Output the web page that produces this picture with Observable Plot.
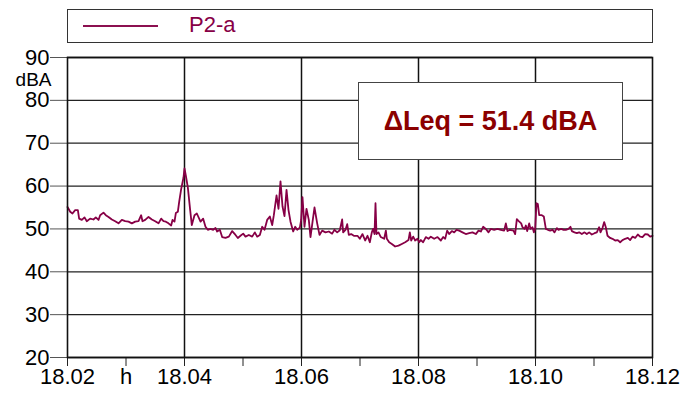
<!DOCTYPE html>
<html>
<head>
<meta charset="utf-8">
<script src="https://cdn.jsdelivr.net/npm/d3@7"></script>
<script src="https://cdn.jsdelivr.net/npm/@observablehq/plot@0.6"></script>
<style>
  html, body { margin: 0; padding: 0; background: white; }
  #wrap { position: relative; width: 682px; height: 401px; font-family: "Liberation Sans", Arial, sans-serif; }
  #legend { position: absolute; left: 67px; top: 9px; width: 584px; height: 32px; border: 1px solid #333; background: white; }
  #legend .swatch { position: absolute; left: 15px; top: 15px; width: 75px; height: 2px; background: #8c1050; }
  #legend .label { position: absolute; left: 121px; top: 3px; font-size: 22px; line-height: 24px; color: #870046; }
  #chart { position: absolute; left: 0; top: 45px; }
  #leq { position: absolute; left: 358px; top: 82px; width: 263px; height: 76px; border: 1px solid #444; background: white;
         display: flex; align-items: center; justify-content: center; font-weight: bold; font-size: 27px; color: #8b0000; }
</style>
</head>
<body>
<div id="wrap">
  <div id="legend"><div class="swatch"></div><div class="label">P2-a</div></div>
  <div id="chart"></div>
  <div id="leq">ΔLeq = 51.4 dBA</div>
</div>
<script>
// time in minutes after 18.02 h
const minutes = [
  0, 0.046, 0.085, 0.131, 0.177, 0.199, 0.245, 0.291, 0.330, 0.387, 0.444, 0.484, 0.530, 0.558, 0.615, 0.655, 0.701, 0.758, 0.815, 0.872,
  0.929, 0.986, 1.043, 1.100, 1.157, 1.214, 1.259, 1.282, 1.328, 1.385, 1.442, 1.499, 1.556, 1.601, 1.641, 1.681, 1.726, 1.772, 1.795, 1.829,
  1.852, 1.886, 1.909, 1.943, 1.983, 2.000, 2.023, 2.057, 2.097, 2.125, 2.171, 2.211,
  2.274, 2.319, 2.359, 2.399, 2.444, 2.490, 2.530, 2.558, 2.604, 2.644, 2.701, 2.758, 2.815, 2.872, 2.912, 2.957, 3.003, 3.043, 3.100, 3.157,
  3.202, 3.242, 3.288, 3.328, 3.368, 3.413, 3.459, 3.499, 3.527, 3.573, 3.607, 3.641, 3.675, 3.709, 3.744, 3.778, 3.812, 3.858, 3.892, 3.926,
  3.972, 3.994, 4.017, 4.051, 4.085, 4.125, 4.154, 4.188, 4.222, 4.268, 4.308, 4.353, 4.410, 4.467, 4.524, 4.564, 4.610, 4.655, 4.695, 4.712,
  4.752, 4.781, 4.809, 4.849, 4.895,
  4.957, 4.997, 5.043, 5.088, 5.128, 5.168, 5.202, 5.225, 5.248, 5.265, 5.282, 5.316, 5.356, 5.413, 5.442, 5.459, 5.499, 5.544, 5.601, 5.658,
  5.715, 5.772, 5.829, 5.852, 5.875, 5.909, 5.943, 5.983, 6.011, 6.040, 6.080, 6.125, 6.171, 6.211, 6.268, 6.325, 6.382, 6.422, 6.456, 6.490,
  6.524, 6.570, 6.610, 6.650, 6.695, 6.752, 6.809, 6.866, 6.923, 6.980, 7.026, 7.066, 7.105, 7.151, 7.197, 7.236, 7.293, 7.350, 7.407, 7.464,
  7.493, 7.521, 7.561,
  7.624, 7.652, 7.681, 7.709, 7.755, 7.778, 7.812, 7.835, 7.858, 7.892, 7.915, 7.949, 7.972, 7.994, 8.017, 8.040, 8.063, 8.108, 8.142, 8.177,
  8.211, 8.251, 8.291, 8.325, 8.365, 8.393, 8.439, 8.479, 8.519, 8.564, 8.598, 8.621, 8.667, 8.707, 8.746, 8.792, 8.838, 8.877, 8.917, 8.963,
  9.009, 9.048, 9.088, 9.111, 9.145, 9.174, 9.202, 9.231, 9.276, 9.316, 9.362, 9.407, 9.447, 9.487, 9.533, 9.578, 9.618, 9.658, 9.704, 9.749,
  9.789, 9.829, 9.875, 9.920, 9.960, 10.0
];
// sound level, dBA
const levels = [
  55.1, 54.0, 53.6, 54.4, 54.4, 52.4, 52.1, 52.7, 51.8, 52.4, 52.2, 52.7, 52.1, 53.2, 53.8, 53.2, 52.8, 52.2, 51.8, 51.3,
  52.1, 51.8, 51.7, 51.3, 51.7, 51.8, 53.2, 51.8, 52.1, 52.8, 52.2, 51.8, 51.3, 52.4, 51.8, 51.7, 51.3, 50.8, 52.1, 51.7,
  53.7, 54.0, 56.3, 59.3, 62.0, 64.1, 62.4, 59.7, 54.4, 50.9, 53.2, 53.6,
  51.7, 52.4, 50.5, 49.8, 50.0, 49.8, 50.2, 49.4, 49.8, 48.1, 47.9, 48.2, 49.5, 48.6, 47.9, 48.4, 48.9, 48.2, 48.6, 48.2,
  49.2, 48.2, 48.6, 50.5, 49.8, 52.1, 52.9, 50.9, 53.2, 57.8, 54.7, 61.1, 55.3, 53.0, 59.1, 54.4, 51.7, 49.4, 50.5, 49.8,
  50.3, 52.1, 57.4, 50.5, 54.7, 52.1, 48.1, 51.6, 55.0, 51.3, 48.6, 49.6, 49.2, 49.4, 48.9, 49.8, 49.2, 49.7, 52.2, 49.2,
  49.8, 51.1, 48.6, 48.8, 48.4,
  48.4, 47.7, 48.8, 47.3, 48.4, 46.9, 49.2, 50.0, 48.8, 56.0, 48.8, 49.2, 48.1, 47.7, 49.6, 47.7, 46.9, 46.5, 45.9, 46.1,
  46.5, 46.9, 47.4, 49.2, 47.3, 48.2, 47.3, 47.7, 46.9, 47.4, 46.9, 48.1, 47.7, 48.2, 47.7, 48.1, 47.3, 48.1, 47.7, 49.6,
  48.8, 49.5, 49.2, 49.8, 49.6, 49.2, 48.8, 49.0, 49.2, 48.8, 49.6, 49.4, 50.5, 50.0, 49.2, 50.0, 49.8, 50.0, 49.8, 49.6,
  51.3, 49.5, 49.8,
  49.6, 48.8, 52.3, 51.9, 51.3, 50.4, 50.0, 50.8, 49.5, 51.3, 50.0, 50.4, 49.2, 50.0, 56.0, 55.8, 53.2, 53.2, 52.9, 50.0,
  49.8, 49.6, 49.8, 49.2, 50.2, 49.8, 50.0, 49.8, 49.8, 50.0, 50.5, 49.5, 49.2, 49.0, 49.2, 48.8, 49.2, 48.8, 49.2, 48.7,
  49.0, 49.2, 50.4, 49.2, 50.2, 51.6, 50.4, 48.4, 47.9, 47.7, 47.3, 47.4, 46.9, 47.4, 47.7, 47.9, 47.4, 48.2, 47.9, 48.7,
  48.2, 48.1, 48.8, 48.7, 48.2, 48.4
];
const xTicks = [0, 1, 2, 3, 4, 5, 6, 7, 8, 9, 10];
const xTickLabels = ["18.02", "h", "18.04", "", "18.06", "", "18.08", "", "18.10", "", "18.12"];
const xGrid = [2, 4, 6, 8];
const yTicks = [20, 30, 40, 50, 60, 70, 80, 90];
const yUnit = "dBA";

const data = minutes.map((t, i) => ({t, v: levels[i]}));

const chart = Plot.plot({
  width: 682,
  height: 356,
  marginTop: 12,
  marginBottom: 44,
  marginLeft: 67,
  marginRight: 30,
  style: {fontFamily: "'Liberation Sans', Arial, sans-serif", fontSize: "22px", color: "black", background: "white", overflow: "visible"},
  x: {domain: [0, 10]},
  y: {domain: [20, 90]},
  marks: [
    Plot.gridY(yTicks, {stroke: "#222", strokeOpacity: 1, strokeWidth: 1.3}),
    Plot.gridX(xGrid, {stroke: "#111", strokeOpacity: 1, strokeWidth: 1.5}),
    Plot.line(data, {x: "t", y: "v", stroke: "#870046", strokeWidth: 1.8}),
    Plot.axisY(yTicks, {tickSize: 17, tickPadding: 1, stroke: "#555", fill: "black", label: null, tickFormat: d => String(d)}),
    Plot.axisX(xTicks, {tickSize: 9, tickPadding: 2, stroke: "#222", fill: "black", label: null,
      tickFormat: d => xTickLabels[xTicks.indexOf(d)]}),
    Plot.text([yUnit], {text: d => d, frameAnchor: "top-left", dx: -16, dy: 22, textAnchor: "end", lineAnchor: "middle", fill: "black", fontSize: 19}),
    Plot.frame({stroke: "#111", strokeWidth: 1.6})
  ]
});
document.getElementById("chart").appendChild(chart);
</script>
</body>
</html>
